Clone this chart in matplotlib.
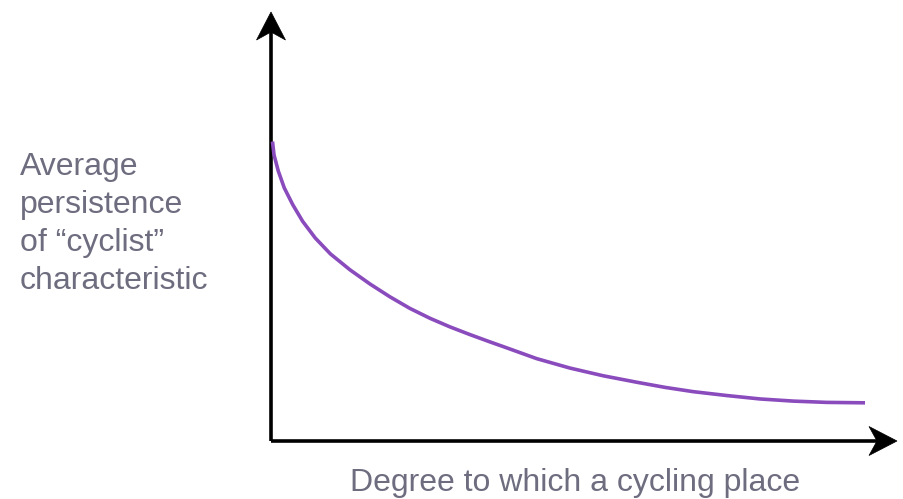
import numpy as np
import matplotlib.pyplot as plt
from matplotlib.patches import Polygon

# values (x and y both in 0..1 of the axis frame)
x_degree = [0.0024, 0.0048, 0.0117, 0.0212, 0.0347, 0.0506, 0.0708, 0.0950,
            0.1262, 0.1581, 0.1901, 0.2220, 0.2540, 0.2859, 0.3179, 0.3498,
            0.3711, 0.4244, 0.4776, 0.5308, 0.5842, 0.6294, 0.6746, 0.7280,
            0.7812, 0.8343, 0.8877, 0.9489]
y_persist = [0.698, 0.667, 0.629, 0.590, 0.551, 0.512, 0.473, 0.436,
             0.399, 0.366, 0.336, 0.309, 0.286, 0.266, 0.248, 0.231,
             0.220, 0.192, 0.170, 0.152, 0.137, 0.125, 0.115, 0.106,
             0.098, 0.093, 0.090, 0.089]

ylabel_lines = ["Average", "persistence", "of \u201ccyclist\u201d", "characteristic"]
xlabel = "Degree to which a cycling place"

W, H = 904, 499
text_col = "#6e6d80"
curve_col = "#8a4bbd"

plt.rcParams['font.family'] = ['Liberation Sans', 'DejaVu Sans']

fig = plt.figure(figsize=(W / 100, H / 100), dpi=100)
# axis frame: origin at (271, 441) px, x to 897 px, y up to 12 px
ax_w, ax_h = 626, 429
ax = fig.add_axes([271 / W, (H - 441) / H, ax_w / W, ax_h / H])
ax.set_xlim(0, 1)
ax.set_ylim(0, 1)
ax.axis('off')

ax.plot(x_degree, y_persist, color=curve_col, lw=2.6, solid_capstyle='butt',
        solid_joinstyle='round', clip_on=False, zorder=3)

# axes lines with notched arrow heads
lw = 2.6
hl, hw, notch = 28, 14.5, 8
ax.plot([0, 0], [0, 1 - (hl - notch) / ax_h], color='black', lw=lw,
        solid_capstyle='butt', clip_on=False)
ax.plot([0, 1 - (hl - notch) / ax_w], [0, 0], color='black', lw=lw,
        solid_capstyle='butt', clip_on=False)

yhead = [(0, 1), (-hw / ax_w, 1 - hl / ax_h), (0, 1 - (hl - notch) / ax_h),
         (hw / ax_w, 1 - hl / ax_h)]
xhead = [(1, 0), (1 - hl / ax_w, hw / ax_h), (1 - (hl - notch) / ax_w, 0),
         (1 - hl / ax_w, -hw / ax_h)]
for pts in (yhead, xhead):
    ax.add_patch(Polygon(pts, closed=True, facecolor='black', edgecolor='black',
                         lw=0.5, clip_on=False, zorder=4))

fs = 23
for i, line in enumerate(ylabel_lines):
    base = 175 + 38 * i
    fig.text(20 / W, 1 - base / H, line, fontsize=fs, color=text_col,
             ha='left', va='baseline')

fig.text(575 / W, 1 - 491 / H, xlabel, fontsize=fs, color=text_col,
         ha='center', va='baseline')

fig.savefig('out.png', dpi=100, facecolor='white')
